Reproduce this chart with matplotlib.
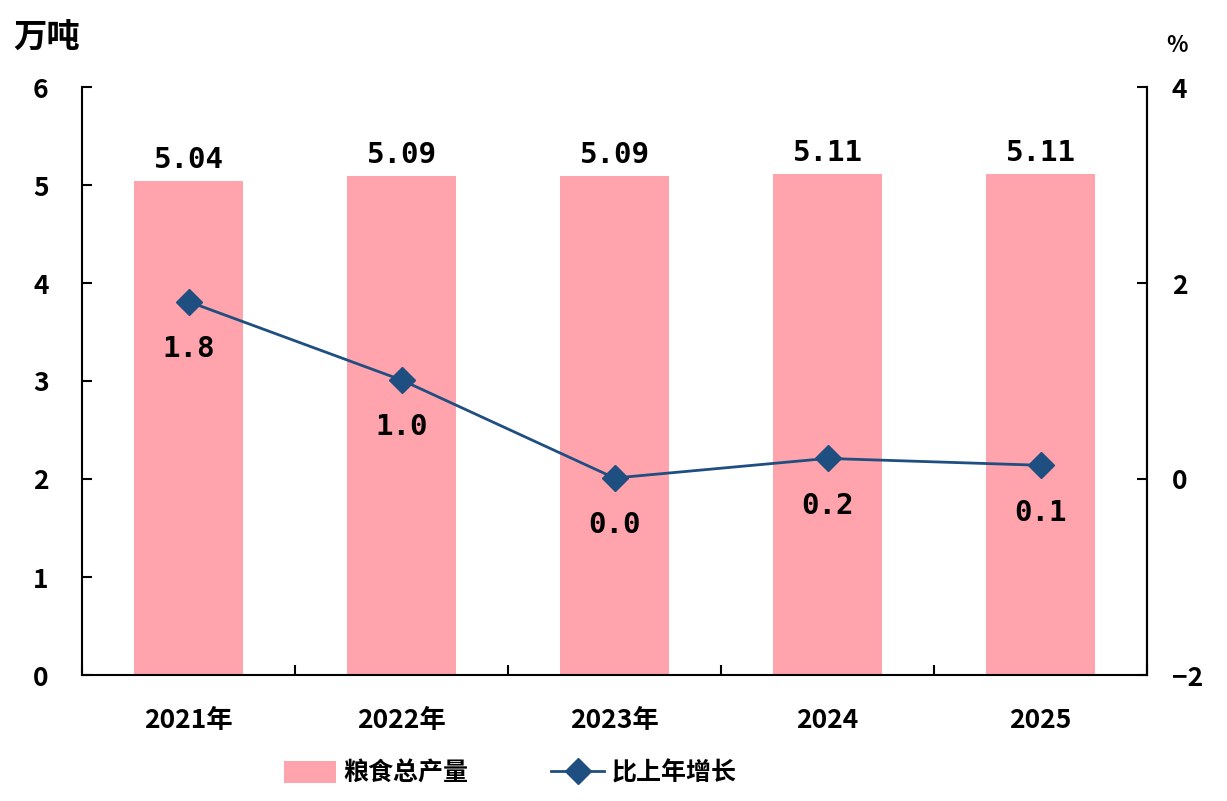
import matplotlib
matplotlib.use("Agg")
import matplotlib.pyplot as plt
from matplotlib.patches import Patch
from matplotlib.lines import Line2D
import numpy as np

plt.rcParams['font.family'] = ['Noto Sans CJK SC', 'DejaVu Sans']

years = ['2021年', '2022年', '2023年', '2024', '2025']
output = [5.04, 5.09, 5.09, 5.11, 5.11]        # 粮食总产量, 万吨
growth = [1.8, 1.0, 0.0, 0.2, 0.1]             # 比上年增长, %
growth_pos = [1.81, 1.01, 0.01, 0.21, 0.14]    # plotted marker heights

bar_color = '#FFA3AD'
line_color = '#1F4E80'
num_font = 'DejaVu Sans Mono'

fig = plt.figure(figsize=(12.27, 8.01), dpi=100)
ax = fig.add_axes([82/1227, 1 - 675/801, (1147-82)/1227, (675-87)/801])
ax2 = ax.twinx()

x = np.arange(len(years))
ax.bar(x, output, width=0.51, color=bar_color, zorder=1)
ax.set_xlim(-0.5, len(years) - 0.5)
ax.set_ylim(0, 6)
ax.set_yticks(range(0, 7))
for xi, v in zip(x, output):
    ax.text(xi, v + 0.07, '%.2f' % v, ha='center', va='bottom',
            fontsize=21, fontweight='bold', family=num_font)

ax2.plot(x, growth_pos, color=line_color, lw=2, marker='D', ms=13,
         markerfacecolor=line_color, markeredgecolor=line_color, zorder=3)
ax2.set_ylim(-2, 4)
ax2.set_yticks([-2, 0, 2, 4])
for xi, v, g in zip(x, growth_pos, growth):
    ax2.text(xi, v - 0.34, '%.1f' % g, ha='center', va='top',
             fontsize=21, fontweight='bold', family=num_font)

# category boundary ticks on x axis
ax.set_xticks(np.arange(-0.5, len(years), 1.0))
ax.set_xticklabels([])
ax.set_xticks(x, minor=True)
ax.set_xticklabels(years, minor=True, fontsize=19, fontweight='bold')
ax.tick_params(axis='x', which='minor', length=0, pad=23)
ax.tick_params(axis='x', which='major', direction='in', length=7, width=1.5)

ax.tick_params(axis='y', direction='in', length=7, width=1.5, labelsize=19, pad=24)
ax2.tick_params(axis='y', direction='in', length=7, width=1.5, labelsize=19, pad=18)
for lab in ax.get_yticklabels() + ax2.get_yticklabels():
    lab.set_fontweight('bold')

for a in (ax, ax2):
    a.spines['top'].set_visible(False)
    for s in ('left', 'right', 'bottom'):
        a.spines[s].set_linewidth(1.5)
ax2.spines['left'].set_visible(False)
ax2.spines['bottom'].set_visible(False)

fig.text(13/1227, 1 - 37/801, '万吨', fontsize=24, fontweight='bold', va='center', ha='left')
fig.text(1177/1227, 1 - 45/801, '%', fontsize=16, fontweight='bold', va='center', ha='center')

handles = [Patch(facecolor=bar_color, edgecolor='none'),
           Line2D([0], [0], color=line_color, lw=2, marker='D', ms=13,
                  markerfacecolor=line_color, markeredgecolor=line_color)]
fig.legend(handles, ['粮食总产量', '比上年增长'], loc='center',
           bbox_to_anchor=(510/1227, 1 - 773/801), ncol=2, frameon=False,
           prop={'size': 18, 'weight': 'bold'}, handlelength=2.1, handleheight=1.0,
           columnspacing=3.3, handletextpad=0.3)

fig.savefig('out.png', dpi=100)
